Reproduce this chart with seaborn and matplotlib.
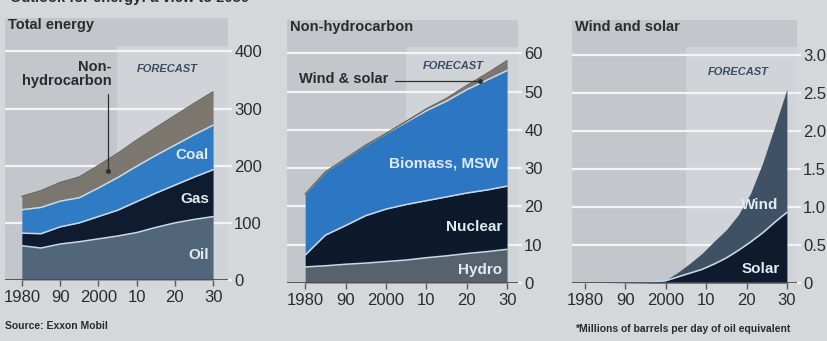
import numpy as np
import matplotlib
matplotlib.use("Agg")
import matplotlib.pyplot as plt
import seaborn as sns

# ---------------------------------------------------------------- data
years = [1980, 1985, 1990, 1995, 2000, 2005, 2010, 2015, 2020, 2025, 2030]

# Total energy by fuel, MBDOE*
oil = [60, 56, 63, 67, 72, 77, 83, 92, 100, 106, 111]
gas = [22, 25, 30, 33, 39, 45, 54, 60, 66, 74, 82]
coal = [41, 46, 45, 44, 50, 57, 62, 66, 70, 74, 78]

# Non-hydrocarbon sources, MBDOE*
hydro = [4.2, 4.5, 4.9, 5.2, 5.6, 6.0, 6.6, 7.1, 7.7, 8.2, 8.8]
nuclear = [3.1, 8.0, 10.1, 12.4, 13.7, 14.5, 14.9, 15.4, 15.8, 16.1, 16.5]
biomass_msw = [15.9, 16.5, 17.5, 18.4, 19.7, 21.5, 23.5, 25.0, 27.0, 28.7, 30.2]
wind_and_solar = [0.0, 0.0, 0.0, 0.01, 0.04, 0.22, 0.45, 0.70, 1.05, 1.70, 2.55]

# Wind and solar, MBDOE*
ws_years = [1980, 1985, 1990, 1995, 2000, 2003, 2006, 2009, 2012, 2015,
            2018, 2021, 2024, 2027, 2030]
solar = [0.0, 0.0, 0.002, 0.005, 0.03, 0.08, 0.13, 0.18, 0.25, 0.33,
         0.43, 0.54, 0.66, 0.80, 0.93]
wind = [0.0, 0.0, 0.002, 0.005, 0.01, 0.06, 0.13, 0.21, 0.30, 0.37,
        0.47, 0.64, 0.92, 1.26, 1.62]

x_ticks = [1980, 1990, 2000, 2010, 2020, 2030]
x_ticklabels = ["1980", "90", "2000", "10", "20", "30"]
forecast_start = 2005

# --------------------------------------------------------------- style
sns.set_theme(style="white")
plt.rcParams["font.family"] = ["Liberation Sans", "DejaVu Sans"]

FIG_BG = "#d5d8db"
BOX_BG = "#c3c7cb"
FORECAST_BG = "#d0d4d8"
GRID = "#f2f4f6"
TEXT = "#2b2b2b"
LABEL_LIGHT = "#e2eaf3"
SEP = "#c9d8e6"

C_OIL = "#52667a"
C_GAS = "#0f1c30"
C_COAL = "#2f7bc4"
C_NONHYDRO = "#7b776e"
C_HYDRO = "#57626d"
C_NUCLEAR = "#0d1a2c"
C_BIOMASS = "#2d77c2"
C_WIND = "#3e5165"
C_SOLAR = "#0e1b2d"

fig = plt.figure(figsize=(8.28, 3.41), dpi=100, facecolor=FIG_BG)
W, H = 828, 341


def add_axes(x0, x1, ytop, ybot):
    return fig.add_axes([x0 / W, 1 - ybot / H, (x1 - x0) / W, (ybot - ytop) / H])


def stack(ax, x, layers):
    base = np.zeros(len(x))
    for vals, face, edge in layers:
        top = base + np.asarray(vals, dtype=float)
        ax.fill_between(x, base, top, color=face, lw=0, zorder=2)
        if edge is not None:
            sns.lineplot(x=x, y=top, ax=ax, color=edge, lw=1.1, zorder=3,
                         legend=False, estimator=None)
        base = top
    return base


def frame(ax, xlim, ymax_val, yticks, yticklabels, forecast_top, title):
    ax.set_facecolor(BOX_BG)
    ax.set_xlim(*xlim)
    ax.set_ylim(0, ymax_val)
    for s in ax.spines.values():
        s.set_visible(False)
    ax.axvspan(forecast_start, xlim[1], ymin=0, ymax=forecast_top,
               color=FORECAST_BG, lw=0, zorder=0)
    for v in yticks[1:]:
        ax.axhline(v, color=GRID, lw=1.6, zorder=1)
    ax.axhline(0, color="#4a4c50", lw=1.3, zorder=4)
    ax.set_xticks(x_ticks)
    ax.set_xticklabels(x_ticklabels)
    ax.tick_params(axis="x", direction="out", length=4, width=1,
                   color="#55585c", labelsize=12, labelcolor=TEXT, pad=3,
                   bottom=True)
    ax.yaxis.tick_right()
    ax.set_yticks(yticks)
    ax.set_yticklabels(yticklabels)
    ax.tick_params(axis="y", direction="out", length=3, width=1.6,
                   color=GRID, labelsize=12, labelcolor=TEXT, pad=1.5,
                   right=True, left=False)
    ax.get_yaxis().get_major_ticks()[0].tick2line.set_color("#4a4c50")
    ax.set_xlabel("")
    ax.set_ylabel("")
    ax.text(0.012, 0.972, title, transform=ax.transAxes, ha="left",
            va="center", fontsize=10.5, fontweight="bold", color=TEXT)


def forecast_label(ax, x, y):
    ax.text(x, y, "FORECAST", ha="center", va="center", fontsize=8,
            fontstyle="italic", fontweight="bold", color="#3c4a66", zorder=5)


def inner_label(ax, x, y, s):
    ax.text(x, y, s, ha="right", va="center", fontsize=11,
            fontweight="bold", color=LABEL_LIGHT, zorder=5)


# ------------------------------------------------------ panel 1: total
ax1 = add_axes(5, 228, 18, 280)
frame(ax1, (1975.6, 2033.9), 458.5, [0, 100, 200, 300, 400],
      ["0", "100", "200", "300", "400"], 0.893, "Total energy")
nonhydro = (np.array(hydro) + np.array(nuclear) + np.array(biomass_msw)
            + np.array(wind_and_solar))
stack(ax1, years, [(oil, C_OIL, SEP), (gas, C_GAS, SEP),
                   (coal, C_COAL, SEP), (nonhydro, C_NONHYDRO, "#6b675f")])
forecast_label(ax1, 2017.9, 369)
inner_label(ax1, 2028.9, 44, "Oil")
inner_label(ax1, 2029.1, 142, "Gas")
inner_label(ax1, 2028.9, 219, "Coal")
ax1.text(2003.4, 361, "Non-\nhydrocarbon", ha="right", va="center",
         multialignment="right", fontsize=10.5, fontweight="bold",
         color=TEXT, linespacing=1.0, zorder=5)
ax1.plot([2002.5, 2002.5], [325, 190], color="#2e2e2e", lw=0.9, zorder=5)
ax1.plot([2002.5], [190], marker="o", ms=2.5, color="#2e2e2e", zorder=5)

# --------------------------------------------- panel 2: non-hydrocarbon
ax2 = add_axes(287, 518, 20, 283)
frame(ax2, (1975.5, 2032.7), 68.7, [0, 10, 20, 30, 40, 50, 60],
      ["0", "10", "20", "30", "40", "50", "60"], 0.897, "Non-hydrocarbon")
stack(ax2, years, [(hydro, C_HYDRO, SEP), (nuclear, C_NUCLEAR, SEP),
                   (biomass_msw, C_BIOMASS, SEP),
                   (wind_and_solar, C_NONHYDRO, "#6b675f")])
forecast_label(ax2, 2016.6, 56.7)
inner_label(ax2, 2027.9, 31.2, "Biomass, MSW")
inner_label(ax2, 2028.8, 14.5, "Nuclear")
inner_label(ax2, 2028.8, 3.4, "Hydro")
ax2.text(2000.6, 53.3, "Wind & solar", ha="right", va="center",
         fontsize=10.5, fontweight="bold", color=TEXT, zorder=5)
ax2.plot([2002.2, 2023.3], [52.7, 52.7], color="#2e2e2e", lw=0.9, zorder=5)
ax2.plot([2023.3], [52.7], marker="o", ms=2.5, color="#2e2e2e", zorder=5)

# ------------------------------------------------ panel 3: wind & solar
ax3 = add_axes(572, 797, 20, 283)
frame(ax3, (1976.8, 2032.5), 3.46, [0, 0.5, 1.0, 1.5, 2.0, 2.5, 3.0],
      ["0", "0.5", "1.0", "1.5", "2.0", "2.5", "3.0"], 0.897,
      "Wind and solar")
stack(ax3, ws_years, [(solar, C_SOLAR, SEP), (wind, C_WIND, None)])
forecast_label(ax3, 2017.9, 2.78)
inner_label(ax3, 2027.8, 1.02, "Wind")
inner_label(ax3, 2028.3, 0.19, "Solar")

# ------------------------------------------------------------- notes
fig.text(0.012, 1 - 2 / H, "Outlook for energy: a view to 2030*",
         ha="left", va="baseline", fontsize=10.5, fontweight="bold",
         color=TEXT)
fig.text(5 / W, 1 - 326 / H, "Source: Exxon Mobil", ha="left",
         va="center", fontsize=7.5, fontweight="bold", color=TEXT)
fig.text(575 / W, 1 - 329 / H,
         "*Millions of barrels per day of oil equivalent", ha="left",
         va="center", fontsize=7.5, fontweight="bold", color=TEXT)

fig.savefig("out.png", dpi=100, facecolor=FIG_BG)
